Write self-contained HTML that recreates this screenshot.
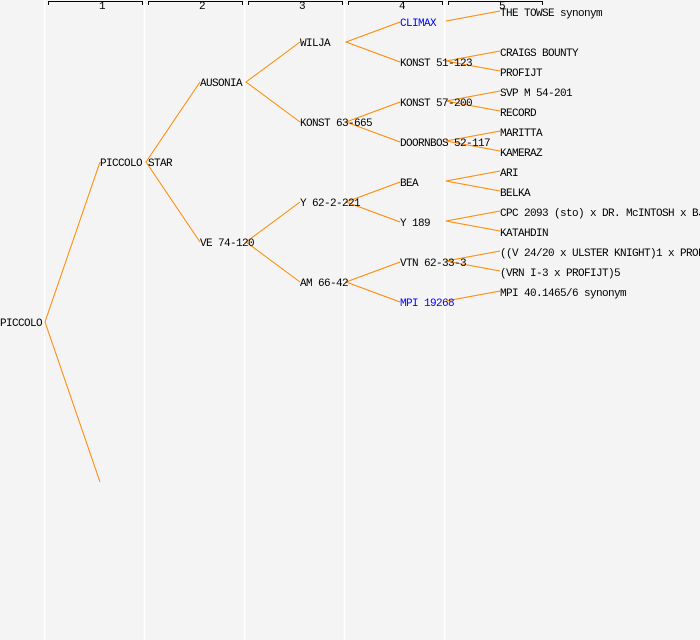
<!DOCTYPE html><html><head><style>body{margin:0;background:#f4f4f4}svg{display:block}text{font-family:"Liberation Mono",monospace;font-size:11px;letter-spacing:-0.6px}</style></head><body>
<svg width="700" height="640" xmlns="http://www.w3.org/2000/svg">
<rect width="700" height="640" fill="#f4f4f4"/>
<g stroke="#fff" stroke-width="1.5"><line x1="44.5" y1="0" x2="44.5" y2="640"/><line x1="144.5" y1="0" x2="144.5" y2="640"/><line x1="244.5" y1="0" x2="244.5" y2="640"/><line x1="344.5" y1="0" x2="344.5" y2="640"/><line x1="444.5" y1="0" x2="444.5" y2="640"/></g>
<g stroke="#000" fill="none" stroke-width="1"><path d="M48.5 5V1.5H142.5V5"/><path d="M148.5 5V1.5H242.5V5"/><path d="M248.5 5V1.5H342.5V5"/><path d="M348.5 5V1.5H442.5V5"/><path d="M448.5 5V1.5H542.5V5"/></g>
<g style="font-size:7px;letter-spacing:0" text-anchor="middle"><text x="102" y="9">1</text><text x="202" y="9">2</text><text x="302" y="9">3</text><text x="402" y="9">4</text><text x="502" y="9">5</text></g>
<g stroke="#ff8800" stroke-width="1" fill="none">
<path d="M100 162L45 322L100 482"/>
<path d="M200 82L146 162L200 242"/>
<path d="M300 42L246 82L300 122"/>
<path d="M300 202L246 242L300 282"/>
<path d="M400 22L346 42L400 62"/>
<path d="M400 102L346 122L400 142"/>
<path d="M400 182L346 202L400 222"/>
<path d="M400 262L346 282L400 302"/>
<path d="M446 21L500 11"/>
<path d="M500 51L446 61L500 71"/>
<path d="M500 91L446 101L500 111"/>
<path d="M500 131L446 141L500 151"/>
<path d="M500 171L446 181L500 191"/>
<path d="M500 211L446 221L500 231"/>
<path d="M500 251L446 261L500 271"/>
<path d="M446 301L500 291"/>
</g>
<g fill="#000">
<text x="0" y="326">PICCOLO</text>
<text x="100" y="166">PICCOLO STAR</text>
<text x="200" y="86">AUSONIA</text>
<text x="200" y="246">VE 74-120</text>
<text x="300" y="46">WILJA</text>
<text x="300" y="126">KONST 63-665</text>
<text x="300" y="206">Y 62-2-221</text>
<text x="300" y="286">AM 66-42</text>
<text x="400" y="26" fill="#0000ff">CLIMAX</text>
<text x="400" y="66">KONST 51-123</text>
<text x="400" y="106">KONST 57-200</text>
<text x="400" y="146">DOORNBOS 52-117</text>
<text x="400" y="186">BEA</text>
<text x="400" y="226">Y 189</text>
<text x="400" y="266">VTN 62-33-3</text>
<text x="400" y="306" fill="#0000ff">MPI 19268</text>
<text x="500" y="16">THE TOWSE synonym</text>
<text x="500" y="56">CRAIGS BOUNTY</text>
<text x="500" y="76">PROFIJT</text>
<text x="500" y="96">SVP M 54-201</text>
<text x="500" y="116">RECORD</text>
<text x="500" y="136">MARITTA</text>
<text x="500" y="156">KAMERAZ</text>
<text x="500" y="176">ARI</text>
<text x="500" y="196">BELKA</text>
<text x="500" y="216">CPC 2093 (sto) x DR. McINTOSH x BJ</text>
<text x="500" y="236">KATAHDIN</text>
<text x="500" y="256">((V 24/20 x ULSTER KNIGHT)1 x PROFIJT</text>
<text x="500" y="276">(VRN I-3 x PROFIJT)5</text>
<text x="500" y="296">MPI 40.1465/6 synonym</text>
</g>
</svg></body></html>
